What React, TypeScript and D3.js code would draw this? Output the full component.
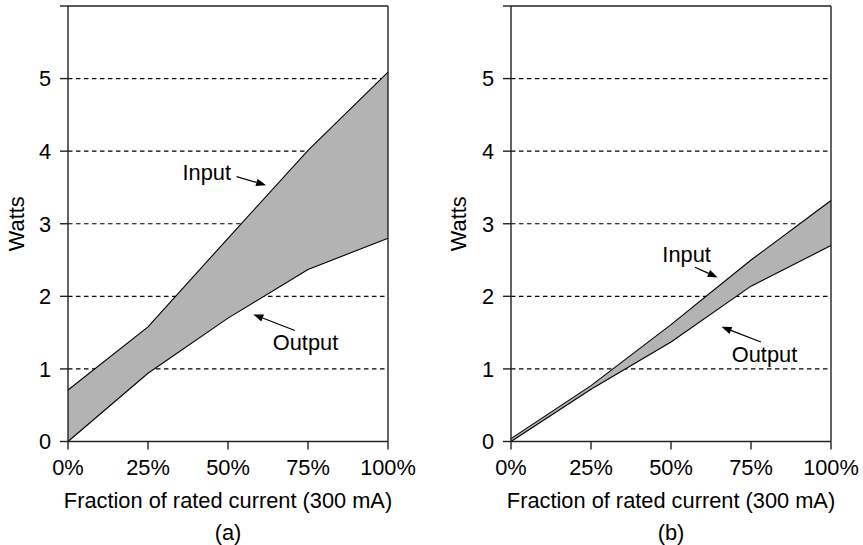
import React from "react";
import * as d3 from "d3";

const fractions = [0, 25, 50, 75, 100];
const xTickLabels = ["0%", "25%", "50%", "75%", "100%"];
const yTickValues = [0, 1, 2, 3, 4, 5, 6];
const yLabelValues = [0, 1, 2, 3, 4, 5];
const gridValues = [1, 2, 3, 4, 5];

const inputA = [0.71, 1.58, 2.8, 4.01, 5.09];
const outputA = [0.0, 0.94, 1.7, 2.37, 2.8];
const inputB = [0.04, 0.77, 1.61, 2.5, 3.32];
const outputB = [0.0, 0.72, 1.37, 2.14, 2.7];

// annotations in data units
const annotA = [
  { label: "Input", tx: 35.8, ty: 3.6, fx: 52.7, fy: 3.65, px: 61.9, py: 3.53 },
  { label: "Output", tx: 64.0, ty: 1.26, fx: 70.9, fy: 1.53, px: 57.9, py: 1.75 },
];
const annotB = [
  { label: "Input", tx: 47.3, ty: 2.47, fx: 57.5, fy: 2.4, px: 64.6, py: 2.26 },
  { label: "Output", tx: 69.0, ty: 1.09, fx: 78.1, fy: 1.37, px: 65.8, py: 1.58 },
];

const FONT = "'Liberation Sans', Arial, Helvetica, sans-serif";
const FS = 21.8;

type Annot = { label: string; tx: number; ty: number; fx: number; fy: number; px: number; py: number };

function Panel({ x0, inputs, outputs, annots, tag, titleX }: { x0: number; inputs: number[]; outputs: number[]; annots: Annot[]; tag: string; titleX: number }) {
  const x = d3.scaleLinear().domain([0, 100]).range([x0, x0 + 320]);
  const y = d3.scaleLinear().domain([0, 6]).range([441.5, 6]);
  const pts = fractions.map((f, i) => ({ f, lo: outputs[i], hi: inputs[i] }));
  const area = d3.area<any>().x((d) => x(d.f)).y0((d) => y(d.lo)).y1((d) => y(d.hi))(pts) || "";
  const lineIn = d3.line<any>().x((d) => x(d.f)).y((d) => y(d.hi))(pts) || "";
  const lineOut = d3.line<any>().x((d) => x(d.f)).y((d) => y(d.lo))(pts) || "";
  const [xl, xr] = x.range();
  const yt = y(6), yb = y(0);
  const cx = (xl + xr) / 2;
  return (
    <g>
      {gridValues.map((v) => (
        <line key={"g" + v} x1={xl} x2={xr} y1={y(v)} y2={y(v)} stroke="#000" strokeWidth={1.2} strokeDasharray="4.5,3.5" />
      ))}
      <path d={area} fill="#b3b3b3" stroke="none" />
      <path d={lineIn} fill="none" stroke="#000" strokeWidth={1.1} />
      <path d={lineOut} fill="none" stroke="#000" strokeWidth={1.1} />
      <line x1={xl} x2={xl} y1={yt} y2={yb} stroke="#222" strokeWidth={1.4} />
      <line x1={xr} x2={xr} y1={yt} y2={yb} stroke="#222" strokeWidth={1.4} />
      <line x1={xl} x2={xr} y1={yt} y2={yt} stroke="#222" strokeWidth={1.4} />
      <line x1={xl} x2={xr} y1={yb} y2={yb} stroke="#222" strokeWidth={1.4} />
      {yTickValues.map((v) => (
        <line key={"yt" + v} x1={xl - 8} x2={xl} y1={y(v)} y2={y(v)} stroke="#222" strokeWidth={1.4} />
      ))}
      {fractions.map((f) => (
        <line key={"xt" + f} x1={x(f)} x2={x(f)} y1={yb} y2={yb + 8} stroke="#222" strokeWidth={1.4} />
      ))}
      {yLabelValues.map((v) => (
        <text key={"yl" + v} x={xl - 17} y={y(v)} dy="0.36em" textAnchor="end" fontFamily={FONT} fontSize={FS} fill="#000">
          {v}
        </text>
      ))}
      {fractions.map((f, i) => (
        <text key={"xl" + f} x={x(f)} y={475} textAnchor="middle" fontFamily={FONT} fontSize={FS} fill="#000">
          {xTickLabels[i]}
        </text>
      ))}
      <text x={cx} y={508} textAnchor="middle" fontFamily={FONT} fontSize={FS} fill="#000">
        Fraction of rated current (300 mA)
      </text>
      <text x={cx} y={539.5} textAnchor="middle" fontFamily={FONT} fontSize={FS} fill="#000">
        {tag}
      </text>
      <text transform={`translate(${titleX},${(yt + yb) / 2}) rotate(-90)`} textAnchor="middle" dy="0.36em" fontFamily={FONT} fontSize={FS} fill="#000">
        Watts
      </text>
      {annots.map((a) => {
        const fx = x(a.fx), fy = y(a.fy), px = x(a.px), py = y(a.py);
        const ang = Math.atan2(py - fy, px - fx);
        const L = 10, W = 3.8;
        const bx = px - L * Math.cos(ang), by = py - L * Math.sin(ang);
        const nx = -Math.sin(ang) * W, ny = Math.cos(ang) * W;
        return (
          <g key={a.label}>
            <text x={x(a.tx)} y={y(a.ty)} fontFamily={FONT} fontSize={FS} fill="#000">
              {a.label}
            </text>
            <line x1={fx} y1={fy} x2={bx} y2={by} stroke="#000" strokeWidth={1.2} />
            <polygon points={`${px},${py} ${bx + nx},${by + ny} ${bx - nx},${by - ny}`} fill="#000" />
          </g>
        );
      })}
    </g>
  );
}

export default function App() {
  return (
    <svg width={863} height={545} style={{ position: "absolute", left: 0, top: 0, background: "#fff" }}>
      <rect width={863} height={545} fill="#fff" />
      <Panel x0={68} inputs={inputA} outputs={outputA} annots={annotA} tag="(a)" titleX={16} />
      <Panel x0={511} inputs={inputB} outputs={outputB} annots={annotB} tag="(b)" titleX={458} />
    </svg>
  );
}
